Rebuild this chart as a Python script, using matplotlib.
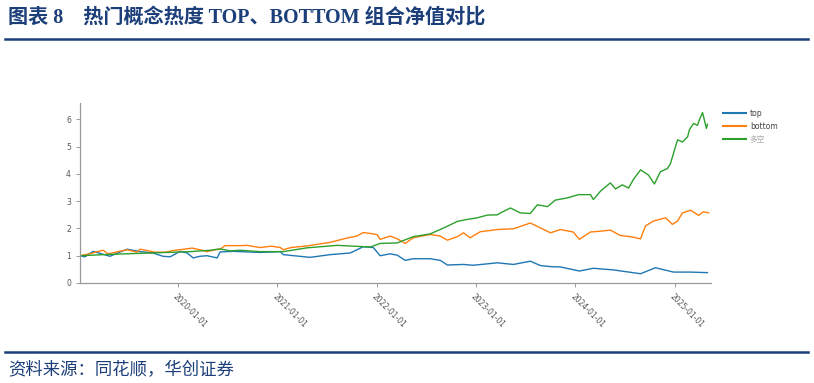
import matplotlib
matplotlib.use("Agg")
import matplotlib.pyplot as plt
import pandas as pd

plt.rcParams['font.family'] = ['DejaVu Sans', 'Noto Sans CJK SC']

top_dates = ["2019-01-07","2019-01-25","2019-02-24","2019-04-27","2019-06-29","2019-08-16","2019-10-02",
             "2019-11-08","2019-12-04","2020-01-10","2020-02-05","2020-02-27","2020-03-23","2020-04-18",
             "2020-05-25","2020-06-05","2020-07-23","2020-09-12","2020-10-30","2021-01-12","2021-01-23",
             "2021-05-02","2021-07-14","2021-09-26","2021-11-13","2021-12-20","2022-01-14","2022-02-20",
             "2022-03-18","2022-04-16","2022-05-16","2022-07-17","2022-08-23","2022-09-18","2022-11-16",
             "2022-12-22","2023-03-21","2023-05-19","2023-07-20","2023-08-26","2023-10-02","2023-11-07",
             "2024-01-16","2024-03-08","2024-05-20","2024-08-28","2024-10-22","2024-12-27","2025-02-28",
             "2025-05-01"]
top_values = [1.00,0.96,1.16,0.98,1.24,1.15,1.10,
              0.98,0.96,1.16,1.10,0.92,0.98,1.00,
              0.92,1.14,1.16,1.14,1.12,1.15,1.04,
              0.94,1.04,1.10,1.33,1.30,1.00,1.07,
              1.02,0.83,0.89,0.89,0.83,0.66,0.68,
              0.65,0.74,0.68,0.80,0.64,0.60,0.59,
              0.44,0.54,0.48,0.34,0.56,0.40,0.40,
              0.38]

bottom_dates = ["2019-01-07","2019-02-24","2019-03-03","2019-04-02","2019-04-20","2019-05-27","2019-06-29",
                "2019-08-05","2019-08-16","2019-09-14","2019-10-10","2019-11-16","2019-12-22","2020-01-10",
                "2020-02-23","2020-03-31","2020-04-18","2020-05-18","2020-06-05","2020-06-23","2020-08-17",
                "2020-09-12","2020-10-30","2020-12-10","2021-01-12","2021-01-23","2021-02-20","2021-04-21",
                "2021-07-14","2021-09-15","2021-10-20","2021-11-13","2021-12-20","2022-01-03","2022-01-14",
                "2022-02-20","2022-03-18","2022-04-16","2022-05-16","2022-07-17","2022-08-23","2022-09-18",
                "2022-10-25","2022-11-16","2022-12-11","2023-01-17","2023-03-21","2023-05-19","2023-07-20",
                "2023-08-26","2023-10-02","2023-11-07","2023-12-25","2024-01-16","2024-02-26","2024-04-03",
                "2024-05-09","2024-06-15","2024-07-22","2024-08-28","2024-09-15","2024-10-14","2024-11-28",
                "2024-12-23","2025-01-11","2025-01-29","2025-02-28","2025-03-29","2025-04-16","2025-05-05"]
bottom_values = [1.00,1.10,1.13,1.20,1.07,1.15,1.22,
                 1.13,1.24,1.18,1.13,1.13,1.20,1.22,
                 1.28,1.20,1.15,1.22,1.24,1.37,1.37,
                 1.38,1.30,1.35,1.30,1.22,1.30,1.36,
                 1.49,1.65,1.72,1.85,1.80,1.77,1.60,
                 1.72,1.62,1.45,1.66,1.78,1.72,1.57,
                 1.70,1.84,1.66,1.88,1.96,1.99,2.20,
                 2.02,1.84,1.96,1.87,1.60,1.87,1.90,
                 1.94,1.74,1.70,1.62,2.09,2.27,2.39,
                 2.15,2.27,2.57,2.67,2.48,2.61,2.57]

ls_dates = ["2019-01-07","2019-04-27","2019-09-21","2020-02-16","2020-04-29","2020-06-05","2020-07-12",
            "2020-08-17","2020-10-30","2021-01-23","2021-04-21","2021-08-09","2021-12-09","2022-01-14",
            "2022-03-18","2022-05-16","2022-07-17","2022-09-18","2022-10-25","2022-11-30","2023-01-06",
            "2023-02-12","2023-03-21","2023-04-01","2023-05-08","2023-06-13","2023-07-20","2023-08-15",
            "2023-09-21","2023-10-20","2023-12-03","2024-01-13","2024-02-26","2024-03-08","2024-04-03",
            "2024-05-09","2024-05-28","2024-06-22","2024-07-15","2024-08-02","2024-08-28","2024-09-26",
            "2024-10-18","2024-11-09","2024-12-05","2024-12-16","2025-01-11","2025-01-29","2025-02-17",
            "2025-02-24","2025-03-11","2025-03-25","2025-04-02","2025-04-13","2025-04-27","2025-05-01"]
ls_values = [1.00,1.05,1.10,1.15,1.20,1.25,1.18,
             1.20,1.15,1.15,1.29,1.38,1.32,1.45,
             1.47,1.70,1.80,2.08,2.26,2.33,2.39,
             2.49,2.50,2.57,2.75,2.57,2.55,2.87,
             2.80,3.04,3.12,3.24,3.24,3.06,3.37,
             3.67,3.45,3.60,3.48,3.80,4.15,3.96,
             3.63,4.08,4.20,4.38,5.25,5.17,5.36,
             5.63,5.85,5.78,6.00,6.25,5.67,5.82]

series_labels = ["top", "bottom", "多空"]
series_colors = ["#1f77b4", "#ff7f0e", "#2ca02c"]
tick_dates = ["2020-01-01","2021-01-01","2022-01-01","2023-01-01","2024-01-01","2025-01-01"]
y_ticks = [0, 1, 2, 3, 4, 5, 6]

title_text = "图表 8    热门概念热度 TOP、BOTTOM 组合净值对比"
source_text = "资料来源：同花顺，华创证券"

navy = "#1c3f7a"

fig = plt.figure(figsize=(8.14, 3.83), dpi=100)
fig.patch.set_facecolor("white")

# header & footer
fig.text(8/814, 1-18/383, title_text, fontsize=14.5, fontweight="bold", color=navy,
         family=["Liberation Serif", "Noto Sans CJK SC"], va="center", ha="left")
fig.add_artist(plt.Line2D([5/814, 808/814], [1-39/383, 1-39/383], color=navy, lw=1.8))
fig.add_artist(plt.Line2D([5/814, 808/814], [1-352/383, 1-352/383], color=navy, lw=1.8))
fig.text(8/814, 1-370/383, source_text, fontsize=12.5, color=navy,
         family=["Noto Sans CJK SC"], va="center", ha="left", style="italic")

ax = fig.add_axes([80/814, (383-283)/383, (711-80)/814, (283-103)/383])
series = [(top_dates, top_values), (bottom_dates, bottom_values), (ls_dates, ls_values)]
for (d, v), lab, col in zip(series, series_labels, series_colors):
    ax.plot(pd.to_datetime(d), v, color=col, lw=1.0, label=lab)

ax.set_xlim(pd.Timestamp("2019-01-07"), pd.Timestamp("2025-05-14"))
ax.set_ylim(0, 6.6)
ax.set_yticks(y_ticks)
ax.set_xticks(pd.to_datetime(tick_dates))
ax.set_xticklabels(tick_dates)
for s in ["top", "right"]:
    ax.spines[s].set_visible(False)
for s in ["left", "bottom"]:
    ax.spines[s].set_color("#999999")
    ax.spines[s].set_linewidth(0.9)
ax.tick_params(axis="both", colors="#999999", labelcolor="#555555", labelsize=5.5, length=3, width=0.7)
for lbl in ax.get_xticklabels():
    lbl.set_rotation(-45)
    lbl.set_ha("left")
    lbl.set_va("top")
    lbl.set_rotation_mode("anchor")

leg = fig.legend(loc="upper left", bbox_to_anchor=(720/814, 1-106/383), frameon=False,
                 fontsize=5.5, handlelength=3.0, handletextpad=0.5, labelspacing=0.5, borderaxespad=0)
for t, c in zip(leg.get_texts(), ["#444444", "#444444", "#aaaaaa"]):
    t.set_color(c)
    t.set_family(["DejaVu Sans", "Noto Sans CJK SC"])
for h in leg.legend_handles:
    h.set_linewidth(1.5)

fig.savefig("out.png", dpi=100, facecolor="white")
